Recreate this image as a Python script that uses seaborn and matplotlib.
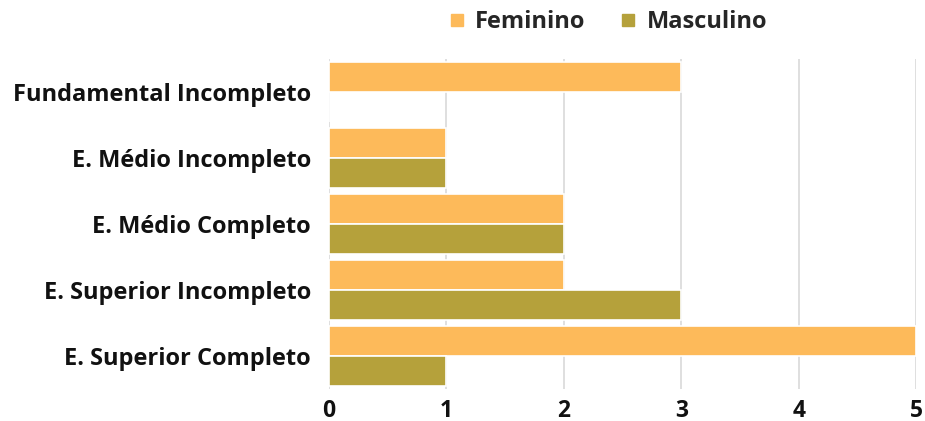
import matplotlib
matplotlib.use("Agg")
import matplotlib.pyplot as plt
from matplotlib.lines import Line2D
import seaborn as sns
import pandas as pd

categories = ["Fundamental Incompleto", "E. Médio Incompleto", "E. Médio Completo",
              "E. Superior Incompleto", "E. Superior Completo"]
feminino = [3, 1, 2, 2, 5]
masculino = [0, 1, 2, 3, 1]
series = ["Feminino", "Masculino"]
colors = ["#FDBA5A", "#B5A13B"]

df = pd.DataFrame({
    "Escolaridade": categories * 2,
    "Valor": feminino + masculino,
    "Sexo": [series[0]] * len(categories) + [series[1]] * len(categories),
})

sns.set_theme(style="white")
plt.rcParams["font.family"] = ["Open Sans", "DejaVu Sans"]

fig = plt.figure(figsize=(9.25, 4.21), dpi=100)
ax = fig.add_axes([0.3557, 0.076, 0.635, 0.784])

sns.barplot(data=df, y="Escolaridade", x="Valor", hue="Sexo", order=categories,
            hue_order=series, palette=colors, saturation=1, orient="h", width=0.92,
            edgecolor="white", linewidth=1.2, ax=ax, legend=False, zorder=3)

ax.set_xlim(0, 5)
ax.set_ylim(len(categories) - 0.5, -0.5)
ax.set_xticks(range(6))
ax.grid(axis="x", color="#d9d9d9", linewidth=1.2, zorder=0)
ax.set_axisbelow(True)
for s in ax.spines.values():
    s.set_visible(False)
ax.set_xlabel("")
ax.set_ylabel("")
ax.tick_params(axis="both", length=0)
ax.tick_params(axis="x", pad=7)
ax.tick_params(axis="y", pad=13)
for lab in ax.get_xticklabels():
    lab.set_fontsize(16.5)
    lab.set_fontweight("bold")
    lab.set_color("#111111")
for lab in ax.get_yticklabels():
    lab.set_fontsize(17)
    lab.set_fontweight("bold")
    lab.set_color("#111111")

handles = [Line2D([0], [0], marker="s", linestyle="", markersize=9,
                  markerfacecolor=c, markeredgecolor=c) for c in colors]
fig.legend(handles, series, loc="center", bbox_to_anchor=(0.655, 0.948), ncol=2,
           frameon=False, prop={"weight": "bold", "size": 17},
           handletextpad=0.28, columnspacing=1.3, handlelength=1.0)

fig.savefig("out.png", dpi=100, facecolor="white")
